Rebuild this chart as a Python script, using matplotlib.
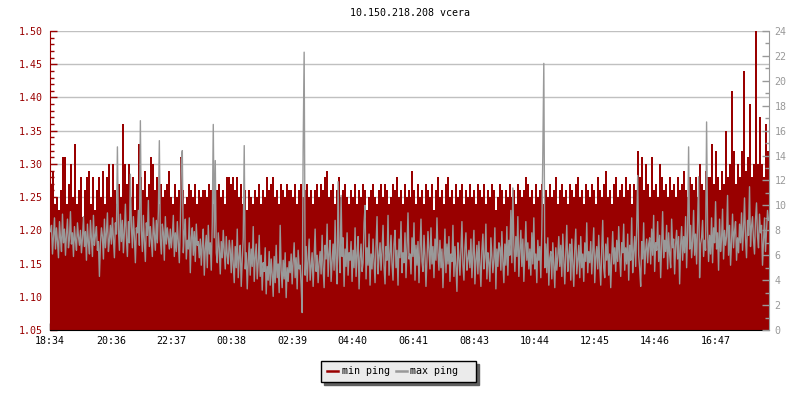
import numpy as np
import matplotlib
matplotlib.use("Agg")
import matplotlib.pyplot as plt
from matplotlib.ticker import MultipleLocator, FixedLocator

TITLE = "10.150.218.208 vcera"
SPAN_MIN = 1440  # 24 h window starting 18:34
tick_minutes = [0, 122, 243, 364, 485, 606, 727, 849, 970, 1091, 1212, 1333]
tick_labels = ["18:34", "20:36", "22:37", "00:38", "02:39", "04:40",
               "06:41", "08:43", "10:44", "12:45", "14:46", "16:47"]

# min ping (ms, left axis), one value per 4 minutes
min_ping = [
    1.27, 1.29, 1.24, 1.25, 1.23, 1.26, 1.31, 1.31, 1.24, 1.27, 1.30, 1.25, 1.33, 1.24, 1.26,
    1.28, 1.22, 1.26, 1.28, 1.29, 1.24, 1.28, 1.23, 1.26, 1.28, 1.25, 1.29, 1.24, 1.28, 1.30,
    1.25, 1.30, 1.26, 1.24, 1.27, 1.25, 1.36, 1.30, 1.27, 1.30, 1.25, 1.28, 1.23, 1.27, 1.33,
    1.28, 1.26, 1.29, 1.25, 1.27, 1.31, 1.30, 1.26, 1.28, 1.24, 1.27, 1.25, 1.26, 1.27, 1.29,
    1.25, 1.24, 1.27, 1.25, 1.26, 1.31, 1.26, 1.24, 1.25, 1.27, 1.26, 1.25, 1.27, 1.24, 1.26,
    1.25, 1.26, 1.26, 1.25, 1.27, 1.26, 1.24, 1.25, 1.26, 1.27, 1.25, 1.26, 1.24, 1.28, 1.28,
    1.27, 1.28, 1.26, 1.28, 1.25, 1.27, 1.24, 1.26, 1.23, 1.26, 1.25, 1.24, 1.26, 1.25, 1.27,
    1.24, 1.26, 1.25, 1.28, 1.26, 1.27, 1.28, 1.25, 1.26, 1.24, 1.27, 1.26, 1.25, 1.27, 1.26,
    1.26, 1.25, 1.27, 1.24, 1.26, 1.27, 1.25, 1.26, 1.27, 1.25, 1.26, 1.24, 1.26, 1.27, 1.25,
    1.27, 1.26, 1.28, 1.29, 1.25, 1.26, 1.27, 1.24, 1.26, 1.28, 1.25, 1.26, 1.27, 1.25, 1.24,
    1.26, 1.25, 1.27, 1.24, 1.26, 1.25, 1.27, 1.26, 1.23, 1.25, 1.26, 1.27, 1.25, 1.24, 1.26,
    1.27, 1.25, 1.27, 1.26, 1.24, 1.25, 1.27, 1.26, 1.28, 1.25, 1.26, 1.24, 1.27, 1.25, 1.26,
    1.25, 1.29, 1.26, 1.24, 1.27, 1.25, 1.26, 1.24, 1.27, 1.26, 1.25, 1.27, 1.23, 1.26, 1.28,
    1.25, 1.26, 1.24, 1.27, 1.28, 1.25, 1.26, 1.24, 1.27, 1.25, 1.26, 1.27, 1.24, 1.26, 1.25,
    1.27, 1.25, 1.26, 1.24, 1.27, 1.26, 1.25, 1.27, 1.24, 1.26, 1.25, 1.27, 1.26, 1.23, 1.25,
    1.27, 1.26, 1.24, 1.26, 1.25, 1.27, 1.25, 1.26, 1.24, 1.27, 1.26, 1.25, 1.26, 1.28, 1.27,
    1.25, 1.26, 1.24, 1.27, 1.25, 1.26, 1.27, 1.24, 1.26, 1.25, 1.27, 1.25, 1.26, 1.28, 1.24,
    1.26, 1.27, 1.25, 1.26, 1.24, 1.27, 1.26, 1.25, 1.27, 1.28, 1.25, 1.26, 1.24, 1.27, 1.26,
    1.25, 1.27, 1.26, 1.24, 1.28, 1.26, 1.25, 1.27, 1.29, 1.25, 1.26, 1.24, 1.27, 1.28, 1.25,
    1.26, 1.27, 1.25, 1.28, 1.26, 1.27, 1.24, 1.27, 1.26, 1.32, 1.28, 1.31, 1.26, 1.30, 1.27,
    1.25, 1.31, 1.26, 1.27, 1.25, 1.30, 1.28, 1.26, 1.27, 1.25, 1.28, 1.26, 1.27, 1.25, 1.28,
    1.26, 1.27, 1.29, 1.26, 1.25, 1.28, 1.27, 1.26, 1.28, 1.25, 1.30, 1.27, 1.26, 1.29, 1.28,
    1.28, 1.33, 1.27, 1.32, 1.28, 1.26, 1.29, 1.27, 1.35, 1.28, 1.30, 1.41, 1.32, 1.27, 1.30,
    1.28, 1.32, 1.44, 1.29, 1.31, 1.39, 1.28, 1.30, 1.50, 1.30, 1.37, 1.30, 1.28, 1.36, 1.32,
]

# max ping (ms, right axis), one value per 2 minutes
max_ping = [
    7.9, 8.4, 6.1, 7.6, 9.0, 6.5, 8.2, 7.1, 5.8, 8.7, 7.4, 6.3, 9.3, 7.0, 8.1, 6.0, 7.7, 8.9, 6.6, 7.3, 9.5, 6.9, 7.8, 5.9, 8.3, 7.2, 6.4, 8.6, 7.5, 6.8,
    8.0, 6.2, 7.4, 9.1, 6.7, 7.9, 5.6, 8.5, 7.0, 6.1, 8.8, 7.3, 5.9, 9.2, 6.8, 7.6, 8.3, 6.4, 7.1, 4.3, 6.9, 8.2, 7.5, 5.7, 8.9, 6.6, 7.8, 9.4, 6.3, 7.2,
    8.4, 6.9, 9.0, 7.3, 5.8, 8.6, 7.7, 14.7, 8.1, 6.4, 9.3, 7.1, 8.8, 6.2, 7.9, 10.1, 7.4, 5.9, 8.7, 7.0, 12.5, 8.3, 6.6, 9.1, 7.5, 5.4, 8.2, 7.8, 9.6, 6.8,
    16.8, 8.0, 6.3, 9.2, 7.1, 5.5, 8.6, 7.6, 10.4, 6.7, 8.3, 7.2, 5.9, 9.0, 7.7, 6.4, 8.8, 7.0, 9.5, 15.2, 7.3, 6.1, 8.5, 7.8, 5.6, 9.1, 6.9, 8.2, 7.4, 6.5,
    8.1, 6.6, 7.5, 9.2, 5.9, 7.8, 6.3, 8.7, 7.0, 5.4, 8.4, 13.7, 14.4, 6.2, 7.7, 8.9, 5.7, 7.2, 6.5, 9.0, 4.6, 7.4, 8.2, 6.0, 7.9, 5.5, 8.5, 6.8, 7.1, 5.8,
    7.3, 5.2, 6.8, 8.1, 4.4, 6.5, 7.6, 5.0, 8.4, 6.1, 7.0, 4.8, 8.6, 16.5, 7.4, 13.6, 6.2, 5.4, 7.8, 6.6, 4.5, 7.1, 5.8, 8.0, 6.3, 4.9, 7.5, 6.0, 5.3, 7.2,
    6.4, 4.6, 7.2, 5.3, 3.8, 6.7, 5.0, 8.1, 4.2, 5.9, 6.8, 3.5, 5.6, 7.4, 14.8, 4.9, 6.2, 3.3, 5.5, 7.0, 4.4, 6.5, 5.1, 8.3, 3.9, 5.8, 6.9, 4.1, 5.4, 7.6,
    4.3, 6.0, 3.2, 5.4, 4.7, 6.6, 2.9, 5.1, 4.0, 6.3, 3.6, 5.7, 4.5, 2.7, 5.9, 3.8, 6.8, 4.2, 5.3, 3.0, 8.4, 4.8, 3.4, 5.6, 4.1, 6.2, 2.6, 5.0, 3.9, 5.5,
    4.6, 6.1, 3.7, 5.5, 7.0, 4.2, 5.8, 3.3, 6.4, 4.9, 5.2, 3.6, 1.4, 14.6, 22.3, 4.4, 6.7, 3.9, 5.6, 7.3, 4.0, 5.1, 6.2, 3.5, 5.9, 8.1, 4.7, 6.0, 3.8, 5.4,
    6.3, 4.5, 7.6, 5.0, 3.4, 6.8, 5.7, 8.5, 4.3, 6.1, 7.2, 3.9, 5.5, 6.9, 4.8, 8.8, 5.3, 3.7, 11.9, 6.0, 4.6, 10.8, 5.9, 7.4, 3.5, 6.5, 5.1, 7.8, 4.4, 6.2,
    5.6, 7.1, 3.9, 6.4, 5.0, 8.2, 4.3, 6.0, 7.5, 3.3, 5.8, 6.9, 4.7, 5.4, 8.6, 10.0, 4.1, 6.6, 5.2, 7.7, 3.6, 6.1, 4.9, 7.3, 5.5, 3.8, 6.8, 9.1, 4.5, 5.9,
    7.0, 4.8, 6.3, 8.4, 5.1, 3.7, 6.7, 5.6, 9.2, 4.4, 6.0, 7.6, 5.3, 4.0, 6.9, 8.0, 5.0, 6.4, 3.6, 7.3, 5.8, 8.7, 4.6, 6.2, 5.4, 7.8, 4.2, 6.6, 9.4, 5.7,
    6.1, 4.5, 7.4, 5.9, 8.6, 4.0, 6.8, 5.2, 7.1, 3.8, 6.4, 8.9, 5.5, 4.7, 7.6, 6.0, 3.5, 5.8, 7.9, 6.3, 4.9, 8.2, 5.3, 6.7, 4.2, 7.3, 5.6, 9.0, 6.2, 4.8,
    7.2, 5.0, 6.5, 3.4, 5.8, 8.1, 4.6, 6.9, 5.3, 7.5, 3.9, 6.1, 5.5, 8.4, 4.3, 6.7, 5.1, 3.1, 7.0, 5.9, 4.4, 6.3, 8.7, 5.2, 4.0, 6.6, 7.8, 4.8, 5.7, 6.4,
    5.0, 7.3, 4.2, 6.0, 8.0, 3.7, 5.6, 6.8, 4.5, 7.1, 5.3, 3.5, 6.4, 7.7, 4.9, 5.8, 8.5, 4.1, 6.2, 5.4, 3.9, 7.4, 6.0, 4.6, 5.7, 8.2, 3.3, 6.5, 5.1, 7.0,
    6.6, 4.8, 7.9, 5.5, 3.8, 6.9, 5.2, 8.3, 4.4, 7.2, 6.0, 9.6, 5.4, 11.4, 6.8, 4.7, 7.5, 5.9, 9.1, 4.3, 6.4, 8.0, 5.1, 7.3, 3.9, 6.2, 8.7, 5.6, 7.0, 4.9,
    6.5, 4.4, 7.8, 5.3, 9.0, 4.9, 6.1, 3.8, 7.2, 5.6, 6.7, 4.2, 8.1, 14.1, 21.4, 5.0, 6.9, 4.6, 7.4, 3.6, 5.8, 6.3, 4.1, 7.0, 5.2, 3.4, 6.6, 4.8, 5.9, 7.5,
    5.1, 6.8, 4.3, 7.7, 5.6, 3.7, 6.2, 8.4, 4.7, 5.9, 6.9, 4.0, 7.3, 5.4, 3.5, 6.5, 8.1, 4.5, 5.7, 6.8, 4.2, 7.5, 5.0, 6.1, 3.9, 7.0, 5.5, 8.6, 4.6, 6.3,
    5.4, 7.1, 4.5, 6.3, 8.2, 3.8, 5.9, 6.7, 4.9, 7.6, 5.2, 3.6, 6.4, 8.8, 5.0, 4.2, 6.9, 5.6, 7.4, 4.4, 6.1, 3.4, 5.8, 7.9, 5.3, 6.6, 4.7, 7.2, 5.5, 8.3,
    5.9, 4.3, 7.0, 6.2, 8.5, 4.8, 6.6, 5.3, 7.7, 4.0, 6.8, 5.6, 9.0, 4.6, 6.3, 7.5, 5.1, 8.2, 12.4, 6.0, 4.9, 3.5, 7.1, 5.7, 8.6, 4.5, 6.4, 7.3, 5.4, 6.9,
    7.4, 5.3, 8.1, 6.0, 9.2, 4.7, 7.0, 6.4, 8.7, 5.5, 7.6, 4.2, 6.8, 9.5, 5.8, 7.2, 6.3, 8.4, 4.9, 7.8, 6.1, 5.0, 8.9, 6.6, 7.3, 4.5, 6.9, 8.0, 5.7, 7.5,
    3.7, 6.8, 8.3, 5.6, 7.5, 6.2, 9.1, 5.0, 7.9, 14.7, 6.5, 8.4, 5.8, 7.1, 9.6, 6.0, 7.7, 5.3, 8.6, 12.3, 4.2, 6.9, 7.4, 8.8, 5.9, 7.2, 6.4, 16.7, 8.0, 5.5,
    7.6, 6.1, 9.0, 5.4, 8.2, 7.0, 10.3, 6.5, 7.8, 4.8, 8.9, 6.3, 7.3, 9.7, 5.7, 8.0, 6.8, 7.5, 10.8, 6.0, 8.4, 5.2, 7.1, 9.3, 6.6, 7.9, 8.7, 5.6, 7.4, 6.2,
    8.5, 7.0, 9.4, 6.4, 8.1, 10.6, 7.3, 5.8, 8.8, 7.6, 11.5, 6.7, 8.3, 9.1, 7.2, 6.1, 8.9, 10.2, 7.5, 6.6, 9.3, 7.8, 8.4, 5.2, 7.1, 9.0, 6.3, 8.0, 9.6, 8.8,
]

RED = "#990000"
GRAY = "#999999"
plt.rcParams["font.family"] = ["DejaVu Sans Mono"]
FS = 7.2

n_min = len(min_ping)
min_edges = np.arange(n_min + 1) * SPAN_MIN / n_min
n_max = len(max_ping)
max_x = (np.arange(n_max) + 0.5) * SPAN_MIN / n_max

fig = plt.figure(figsize=(8, 4), dpi=100)
ax = fig.add_axes([50 / 800, 70 / 400, 719 / 800, 299 / 400])
ax.set_axisbelow(True)
ax.stairs(min_ping, min_edges, baseline=1.05, fill=True, color=RED, linewidth=0,
          antialiased=False, label="min ping")
ax.set_xlim(0, SPAN_MIN)
ax.set_ylim(1.05, 1.50)
ax.yaxis.set_major_locator(MultipleLocator(0.05))
ax.yaxis.set_minor_locator(MultipleLocator(0.01))
ax.yaxis.set_major_formatter(matplotlib.ticker.FormatStrFormatter("%.2f"))
ax.grid(axis="y", color="#c0c0c0", linewidth=1)
ax.xaxis.set_major_locator(FixedLocator(tick_minutes))
ax.set_xticklabels(tick_labels)
ax.tick_params(axis="x", direction="in", length=5, width=1, color="black",
               labelsize=FS, pad=4)
ax.tick_params(axis="y", which="major", direction="in", length=5, width=1,
               color=RED, labelcolor=RED, labelsize=FS, pad=5)
ax.tick_params(axis="y", which="minor", direction="in", length=3, width=1, color=RED)
for s in ("top", "right"):
    ax.spines[s].set_visible(False)
ax.spines["left"].set_color(RED)
ax.spines["bottom"].set_color("black")

ax2 = ax.twinx()
ax2.plot(max_x, max_ping, color=GRAY, linewidth=1.0, label="max ping")
ax2.set_ylim(0, 24)
ax2.yaxis.set_major_locator(MultipleLocator(2))
ax2.yaxis.set_minor_locator(MultipleLocator(1))
ax2.tick_params(axis="y", which="major", direction="in", length=5, width=1,
                color=GRAY, labelcolor=GRAY, labelsize=FS, pad=4)
ax2.tick_params(axis="y", which="minor", direction="in", length=3, width=1, color=GRAY)
for s in ("top", "left", "bottom"):
    ax2.spines[s].set_visible(False)
ax2.spines["right"].set_color(GRAY)

fig.text(409.5 / 800, 1 - 13 / 400, TITLE, ha="center", va="center",
         fontsize=FS, color="black")

h1 = matplotlib.lines.Line2D([], [], color=RED, linewidth=1.8)
h2 = matplotlib.lines.Line2D([], [], color=GRAY, linewidth=1.8)
leg = fig.legend([h1, h2], ["min ping", "max ping  "], loc="center",
                 bbox_to_anchor=(398.5 / 800, 1 - 371 / 400), ncol=2,
                 fontsize=FS, frameon=True, fancybox=False, handlelength=1.1,
                 handletextpad=0.4, columnspacing=0.6, borderpad=0.55,
                 shadow={"ox": 2.5, "oy": -2.5, "facecolor": "#606060",
                         "edgecolor": "#606060", "alpha": 1})
leg.get_frame().set_facecolor("#ebebeb")
leg.get_frame().set_edgecolor("black")
leg.get_frame().set_linewidth(1)
leg.get_frame().set_alpha(1)

fig.savefig("out.png", dpi=100)
